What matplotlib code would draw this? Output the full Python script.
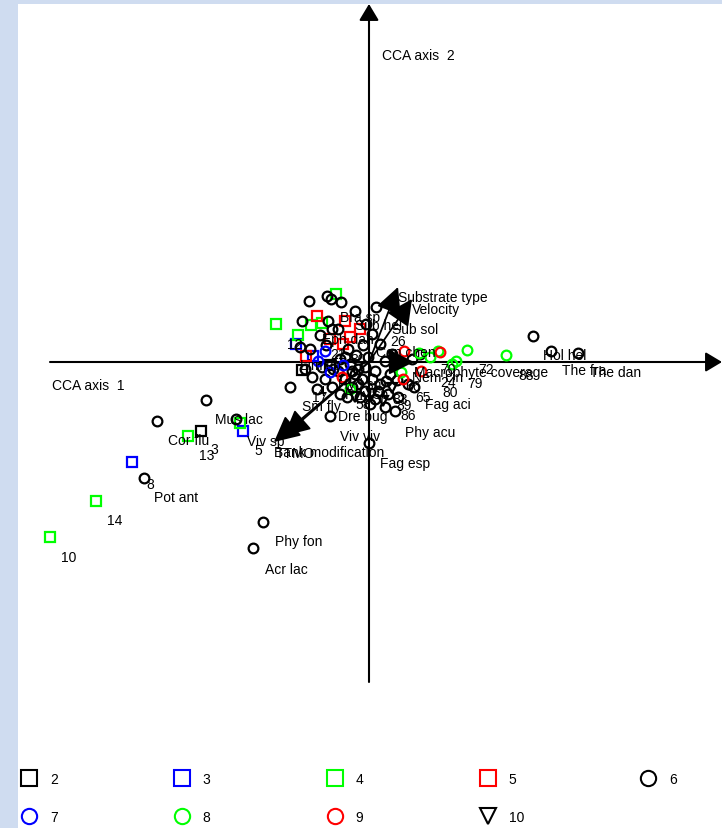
import numpy as np
import matplotlib.pyplot as plt
from matplotlib.lines import Line2D

plt.rcParams['font.family'] = ['Liberation Sans', 'DejaVu Sans']

# site scores (CCA axis 1, CCA axis 2) by group
site2 = np.array([(-1.68, -0.69), (-0.67, -0.08), (-0.39, -0.03)])
site3 = np.array([(-2.37, -1.00), (-1.26, -0.69), (-0.73, 0.18), (-0.56, 0.06)])
site4 = np.array([(-3.19, -1.75), (-2.73, -1.39), (-1.81, -0.74), (-1.29, -0.61),
                  (-0.93, 0.38), (-0.33, 0.68), (-0.71, 0.27), (-0.58, 0.37),
                  (-0.47, 0.39)])
site5 = np.array([(-0.52, 0.46), (-0.24, 0.41), (-0.09, 0.33), (-0.63, 0.06),
                  (-0.26, 0.18), (-0.19, 0.25), (-0.39, 0.23)])
site6 = np.array([(-1.63, -0.38), (-2.12, -0.59), (-2.25, -1.16), (-1.06, -1.60),
                  (-1.16, -1.86), (1.64, 0.26), (1.82, 0.11), (2.09, 0.09),
                  (-0.39, -0.54), (0.26, -0.49), (0.00, -0.81), (-1.33, -0.57),
                  (-0.79, -0.25), (-0.60, 0.61), (-0.42, 0.66), (-0.38, 0.63),
                  (-0.28, 0.60), (-0.14, 0.51), (0.07, 0.55), (-0.67, 0.41),
                  (-0.41, 0.41), (-0.37, 0.33), (-0.69, 0.15), (-0.59, 0.13),
                  (-0.49, 0.27), (-0.43, 0.17), (-0.31, 0.33), (-0.21, 0.13),
                  (-0.13, 0.07), (-0.06, 0.17), (-0.11, -0.07), (-0.24, -0.17),
                  (-0.17, -0.25), (-0.07, -0.17), (0.06, -0.09), (0.11, -0.22),
                  (0.21, -0.12), (0.28, -0.18), (0.19, -0.32), (0.06, -0.37),
                  (-0.04, -0.29), (-0.29, -0.32), (-0.37, -0.25), (-0.44, -0.17),
                  (-0.52, -0.27), (-0.57, -0.15), (-0.64, -0.07), (0.16, 0.01),
                  (0.23, 0.08), (0.11, 0.18), (0.03, 0.28), (-0.03, 0.38),
                  (0.39, -0.22), (0.45, -0.25), (0.29, -0.35), (0.43, 0.03),
                  (0.51, 0.08), (-0.19, -0.02), (-0.29, 0.03), (-0.14, -0.12),
                  (-0.01, 0.05), (-0.36, -0.07), (-0.47, -0.05), (-0.09, -0.35),
                  (0.16, -0.45), (-0.24, 0.05), (-0.17, -0.09), (0.03, -0.17),
                  (-0.04, -0.05), (0.09, -0.29), (-0.31, -0.09), (-0.11, -0.22),
                  (0.17, -0.19), (-0.22, -0.35), (0.01, -0.42)])
site7 = np.array([(-0.51, 0.01), (-0.39, -0.10), (-0.26, -0.03), (-0.44, 0.11)])
site8 = np.array([(1.37, 0.07), (0.98, 0.12), (0.87, 0.01), (0.69, 0.11),
                  (0.61, 0.05), (0.50, 0.09), (0.83, -0.02), (-0.19, -0.27),
                  (0.32, -0.10)])
site9 = np.array([(0.71, 0.10), (0.34, -0.17), (0.52, -0.09), (-0.27, -0.15),
                  (0.35, 0.11)])
site10 = np.array([(-0.14, -0.35), (0.03, -0.32), (0.14, -0.39), (0.23, -0.26)])

groups = ['2', '3', '4', '5', '6', '7', '8', '9', '10']
sites = [site2, site3, site4, site5, site6, site7, site8, site9, site10]

# species scores
species = ['Mus lac', 'Cor flu', 'Viv sp', 'Pot ant', 'Phy fon', 'Acr lac',
           'Viv viv', 'Fag esp', 'Phy acu', 'Dre bug', 'Fag aci', 'Hol hel',
           'The fra', 'The dan', 'Sub sol', 'Con chen', 'Sm fly', 'Bra sp',
           'Sub hel', 'Eph dan', 'Lim sp', 'Hyd sp', 'Rhy sp', 'Nem cin', 'TTMO']
spec_x = [-1.54, -2.01, -1.22, -2.15, -0.94, -1.04, -0.29, 0.11, 0.36, -0.31,
          0.56, 1.74, 1.93, 2.21, 0.23, 0.07, -0.67, -0.29, -0.14, -0.47,
          -0.69, -0.31, -0.24, 0.43, -0.93]
spec_y = [-0.57, -0.78, -0.79, -1.35, -1.79, -2.07, -0.74, -1.01, -0.70, -0.54,
          -0.42, 0.07, -0.08, -0.10, 0.33, 0.10, -0.44, 0.45, 0.37, 0.23,
          -0.03, -0.22, -0.32, -0.15, -0.91]

# site numbers
site_ids = ['13', '3', '5', '8', '14', '10', '12', '26', '72', '79', '80', '65',
            '86', '88', '58', '83', '89', '24', '4', '17', '66', '70', '21', '30']
id_x = [-1.70, -1.59, -1.15, -2.23, -2.62, -3.08, -0.82, 0.21, 1.09, 0.98,
        0.73, 0.46, 0.31, 1.49, -0.14, 0.23, 0.27, 0.71, -0.51, -0.57, 0.36,
        0.71, -0.39, -0.19]
id_y = [-0.93, -0.87, -0.88, -1.22, -1.58, -1.95, 0.18, 0.21, -0.07, -0.21,
        -0.30, -0.35, -0.53, -0.13, -0.42, -0.37, -0.43, -0.20, -0.29, -0.35,
        -0.24, -0.07, 0.08, 0.03]

# environmental variables (biplot arrows)
env = ['Substrate type', 'Velocity', 'Macrophyte coverage', 'Bank modification', '']
env_x = [0.29, 0.43, 0.45, -0.95, -0.85]
env_y = [0.75, 0.63, 0.00, -0.80, -0.74]

markers = ['s', 's', 's', 's', 'o', 'o', 'o', 'o', 'v']
colors = ['k', '#0000ff', '#00ff00', '#ff0000', 'k', '#0000ff', '#00ff00', '#ff0000', 'k']

fig = plt.figure(figsize=(7.22, 8.29), dpi=100, facecolor='#cfdcf0')
ax = fig.add_axes([18/722, 0, 704/722, 824/829])
ax.set_facecolor('white')
for s in ax.spines.values():
    s.set_visible(False)
ax.set_xticks([])
ax.set_yticks([])
ax.set_xlim(-3.51, 3.53)
ax.set_ylim(-4.66, 3.58)

# axes with arrow heads
ax.annotate('', xy=(3.53, 0), xytext=(-3.19, 0),
            arrowprops=dict(arrowstyle='-|>,head_length=0.5,head_width=0.3',
                            color='k', lw=1.5, mutation_scale=20, shrinkA=0, shrinkB=0))
ax.annotate('', xy=(0, 3.58), xytext=(0, -3.20),
            arrowprops=dict(arrowstyle='-|>,head_length=0.5,head_width=0.3',
                            color='k', lw=1.5, mutation_scale=20, shrinkA=0, shrinkB=0))
ax.text(0.13, 3.07, 'CCA axis  2', fontsize=10, ha='left', va='center')
ax.text(-3.17, -0.23, 'CCA axis  1', fontsize=10, ha='left', va='center')

for pts, m, c in zip(sites, markers, colors):
    ax.plot(pts[:, 0], pts[:, 1], ls='none', marker=m, ms=7, mfc='none',
            mec=c, mew=1.6, zorder=3)

for name, x, y in zip(species, spec_x, spec_y):
    ax.text(x, y, name, fontsize=10, ha='left', va='center', zorder=4)
for name, x, y in zip(site_ids, id_x, id_y):
    ax.text(x, y, name, fontsize=10, ha='left', va='center', zorder=4)

for name, x, y in zip(env, env_x, env_y):
    ax.annotate('', xy=(x, y), xytext=(0, 0),
                arrowprops=dict(arrowstyle='-|>,head_length=0.8,head_width=0.4',
                                color='k', lw=1.3, mutation_scale=20,
                                shrinkA=0, shrinkB=0), zorder=5)
    ax.annotate(name, xy=(x, y), xytext=(0, -2), textcoords='offset points',
                fontsize=10, ha='left', va='top', zorder=5)

handles = [Line2D([], [], ls='none', marker=m, ms=11, mfc='none', mec=c, mew=1.5)
           for m, c in zip(markers, colors)]
# row-wise order for a five column legend
order = [0, 5, 1, 6, 2, 7, 3, 8, 4]
fig.legend([handles[i] for i in order], [groups[i] for i in order],
           ncol=5, loc='upper left', bbox_to_anchor=(22/722, 1 - 773/829),
           frameon=False, fontsize=10, handlelength=1.0, handletextpad=1.0,
           columnspacing=8.45, labelspacing=1.75, borderpad=0, borderaxespad=0)

fig.savefig('out.png', dpi=100, facecolor=fig.get_facecolor())
